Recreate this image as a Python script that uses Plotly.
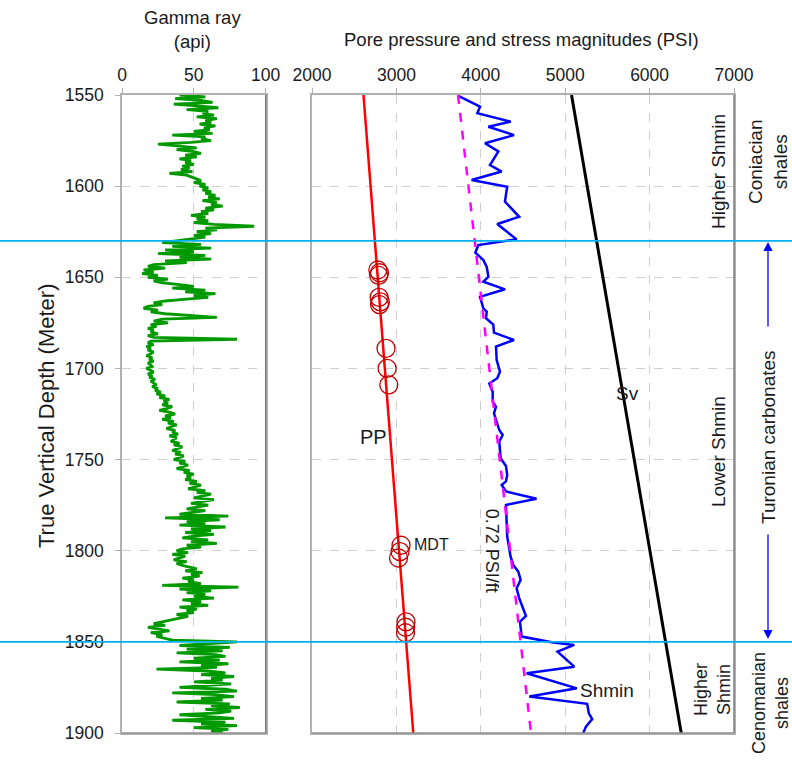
import plotly.graph_objects as go

# ---------------- data ----------------
# Gamma ray log, one sample per metre from 1550 m to 1900 m (api)
gr_top, gr_step = 1550, 1
gamma_api = [
    40, 58, 37, 55, 63, 36, 52, 67, 45, 60,
    56, 64, 52, 66, 58, 62, 54, 65, 57, 61,
    50, 63, 35, 58, 55, 62, 48, 25, 40, 52,
    38, 50, 55, 44, 52, 40, 48, 44, 50, 42,
    47, 41, 49, 33, 45, 48, 51, 55, 50, 58,
    54, 60, 56, 62, 58, 65, 60, 68, 56, 66,
    62, 70, 58, 64, 55, 60, 48, 58, 52, 60,
    50, 64, 92, 58, 66, 52, 62, 50, 58, 47,
    40, 28, 55, 35, 62, 30, 50, 25, 58, 40,
    62, 30, 45, 22, 18, 30, 15, 22, 14, 25,
    18, 32, 22, 28, 40, 50, 35, 58, 44, 65,
    50, 60, 45, 30, 22, 28, 18, 15, 25, 20,
    30, 45, 66, 28, 22, 32, 20, 24, 18, 22,
    20, 25, 18, 22, 80, 20, 18, 22, 17, 20,
    18, 22, 20, 17, 21, 19, 22, 18, 20, 21,
    17, 20, 22, 18, 21, 19, 23, 20, 22, 24,
    21, 25, 23, 27, 24, 30, 26, 33, 29, 32,
    28, 35, 31, 26, 33, 37, 30, 34, 28, 36,
    32, 38, 34, 31, 37, 35, 39, 33, 38, 36,
    34, 40, 36, 42, 38, 35, 41, 37, 43, 39,
    36, 44, 40, 46, 42, 38, 47, 43, 50, 45,
    48, 44, 52, 47, 55, 50, 46, 58, 52, 62,
    55, 50, 64, 56, 48, 60, 52, 45, 58, 50,
    40, 74, 30, 68, 45, 58, 40, 72, 48, 62,
    44, 64, 50, 42, 60, 48, 66, 45, 55, 42,
    38, 46, 35, 44, 40, 36, 45, 38, 42, 48,
    52, 44, 56, 48, 54, 42, 50, 46, 55, 28,
    81, 40, 62, 45, 58, 50, 64, 42, 55, 48,
    60, 40, 52, 45, 50, 38, 46, 40, 33, 28,
    22, 30, 18, 26, 33, 20, 28, 24, 30, 35,
    80, 62, 40, 75, 45, 70, 38, 65, 72, 50,
    68, 40, 74, 55, 66, 24, 60, 72, 55, 78,
    62, 70, 50, 76, 58, 40, 72, 80, 35, 65,
    78, 55, 70, 38, 75, 62, 82, 58, 76, 68,
    40, 60, 78, 35, 72, 55, 80, 50, 74, 62,
    70,
]
gr_depth = [gr_top + i * gr_step for i in range(len(gamma_api))]

# Pore pressure trend (PSI)
pp_depth = [1550, 1900]
pp_psi = [2610, 3200]

# MDT pressure measurements
mdt_depth = [1646, 1647.5, 1649, 1661, 1663.5, 1665, 1689, 1700, 1709,
             1797, 1800.5, 1804, 1839, 1842, 1845]
mdt_psi = [2780, 2800, 2790, 2795, 2810, 2800, 2877, 2890, 2910,
           3055, 3043, 3025, 3114, 3110, 3108]

# 0.72 PSI/ft gradient line
grad_depth = [1550, 1900]
grad_psi = [3730, 4595]

# Minimum horizontal stress profile
shmin_depth = [1550.5, 1556.4, 1560, 1564.6, 1567.4, 1572, 1576.5, 1581, 1588.4,
               1592, 1596.6, 1600.3, 1608.5, 1616.8, 1620.8, 1629.2, 1632.3,
               1636.5, 1640.5, 1644.3, 1649.7, 1652.4, 1656.6, 1660.7, 1667,
               1668.9, 1672.5, 1676, 1680.4, 1684.4, 1688, 1695.4, 1701.8,
               1705.4, 1708.2, 1712.8, 1718.3, 1721, 1724.6, 1733.8, 1736.5,
               1740.2, 1749.3, 1753.5, 1758.4, 1762, 1764, 1767.5, 1771.5,
               1774.9, 1792.3, 1803.3, 1807.8, 1811.5, 1816, 1820.6, 1826,
               1835.8, 1838.9, 1847.1, 1850.4, 1851.7, 1855.4, 1863.6, 1867.2,
               1875.5, 1880, 1884, 1889.2, 1892.4, 1896.5, 1900]
shmin_psi = [3734, 3991, 3959, 4355, 4090, 4393, 4050, 4208, 4109,
             4247, 3891, 4313, 4286, 4455, 4195, 4424, 3970,
             3935, 4030, 4070, 4090, 4030, 4287, 3991, 4030,
             4070, 4061, 4148, 4156, 4393, 4180, 4188, 4227,
             4195, 4101, 4141, 4141, 4180, 4156, 4219, 4259,
             4219, 4235, 4298, 4313, 4298, 4247, 4300, 4660,
             4298, 4313, 4353, 4385, 4444, 4472, 4424, 4455,
             4535, 4464, 4484, 4858, 5107, 4909, 5107, 4543,
             5138, 4574, 5260, 5280, 5320, 5246, 5214]

# Vertical stress trend
sv_depth = [1550, 1900]
sv_psi = [5075, 6375]

# Formation boundaries (m)
boundaries = [1630, 1850]

depth_ticks = [1550, 1600, 1650, 1700, 1750, 1800, 1850, 1900]
gr_ticks = [0, 50, 100]
psi_ticks = [2000, 3000, 4000, 5000, 6000, 7000]

# ---------------- layout helpers ----------------
W, H = 792, 761
ML, MR, MT, MB = 122, 58, 95, 28
PW, PH = W - ML - MR, H - MT - MB


def px(x):
    return (x - ML) / PW


def py(y):
    return 1 - (y - MT) / PH


FONT = "Liberation Sans, Arial, sans-serif"
TXT = "#1a1a1a"
GRID = "#cfcfcf"
AXL = "#b0b0b0"

fig = go.Figure()

fig.add_trace(go.Scatter(x=gamma_api, y=gr_depth, mode="lines",
                         line=dict(color="#009a00", width=2.8),
                         xaxis="x", yaxis="y", hoverinfo="skip"))

fig.add_trace(go.Scatter(x=pp_psi, y=pp_depth, mode="lines",
                         line=dict(color="#ff0000", width=2.5),
                         xaxis="x2", yaxis="y2"))
fig.add_trace(go.Scatter(x=mdt_psi, y=mdt_depth, mode="markers",
                         marker=dict(symbol="circle-open", size=18, color="#c00000",
                                     line=dict(width=1.3, color="#c00000")),
                         xaxis="x2", yaxis="y2"))
fig.add_trace(go.Scatter(x=shmin_psi, y=shmin_depth, mode="lines",
                         line=dict(color="#0000ff", width=2.5),
                         xaxis="x2", yaxis="y2"))
fig.add_trace(go.Scatter(x=grad_psi, y=grad_depth, mode="lines",
                         line=dict(color="#ff00ff", width=2.5, dash="dash"),
                         xaxis="x2", yaxis="y2"))
fig.add_trace(go.Scatter(x=sv_psi, y=sv_depth, mode="lines",
                         line=dict(color="#000000", width=3),
                         xaxis="x2", yaxis="y2"))

left_dom = [0, px(265.7)]
right_dom = [px(312), 1]

common_x = dict(side="top", showline=True, linecolor=AXL, linewidth=1.5, mirror=True,
                ticks="outside", ticklen=5, tickcolor=AXL, tickwidth=1.2,
                showgrid=True, gridcolor=GRID, griddash="dash", gridwidth=1,
                zeroline=False, tickfont=dict(family=FONT, size=17.5, color=TXT))
common_y = dict(range=[1900, 1550], showline=True, linecolor=AXL, linewidth=1.5,
                mirror=True, showgrid=True, gridcolor=GRID, griddash="dash",
                gridwidth=1, zeroline=False, tickvals=depth_ticks)

fig.update_layout(
    width=W, height=H,
    margin=dict(l=ML, r=MR, t=MT, b=MB),
    paper_bgcolor="white", plot_bgcolor="white",
    showlegend=False,
    xaxis=dict(domain=left_dom, range=[0, 100], tickvals=gr_ticks, anchor="y", **common_x),
    xaxis2=dict(domain=right_dom, range=[2000, 7000], tickvals=psi_ticks, anchor="y2", **common_x),
    yaxis=dict(anchor="x", ticks="outside", ticklen=5, tickcolor=AXL,
               tickfont=dict(family=FONT, size=17.5, color=TXT), ticklabelstandoff=8,
               **common_y),
    yaxis2=dict(anchor="x2", matches="y", showticklabels=False, ticks="", **common_y),
)

# darker right-hand and bottom borders of both tracks
for x0, x1 in [(left_dom[0], left_dom[1]), (right_dom[0], right_dom[1])]:
    fig.add_shape(type="line", xref="paper", yref="paper", x0=x1, x1=x1, y0=0, y1=1,
                  line=dict(color="#808080", width=1.5))
    fig.add_shape(type="line", xref="paper", yref="paper", x0=x0, x1=x1, y0=0, y1=0,
                  line=dict(color="#909090", width=1.5))

# formation boundaries across the whole figure
for d in boundaries:
    fig.add_shape(type="line", xref="paper", yref="y", x0=px(0), x1=px(W), y0=d, y1=d,
                  line=dict(color="#00b0f0", width=1.6), layer="above")


def label(text, x, y, size=18, angle=0, xanchor="center", ref="paper"):
    kw = dict(text=text, showarrow=False, textangle=angle, xanchor=xanchor,
              yanchor="middle", font=dict(family=FONT, size=size, color=TXT))
    if ref == "paper":
        fig.add_annotation(xref="paper", yref="paper", x=px(x), y=py(y), **kw)
    else:
        fig.add_annotation(xref="x2", yref="y2", x=x, y=y, **kw)


# track titles
label("Gamma ray<br>(api)", 192, 29, size=18.5)
label("Pore pressure and stress magnitudes (PSI)", 521, 40, size=18.5)
label("True Vertical Depth (Meter)", 46, 416, size=22, angle=-90)

# curve labels
label("PP", 2723, 1737.5, size=20, ref="data")
label("MDT", 3190, 1796.5, size=16, xanchor="left", ref="data")
label("0.72 PSI/ft", 4133, 1800, size=18, angle=90, ref="data")
label("Shmin", 5490, 1876.5, size=19, ref="data")
label("Sv", 5735, 1713.5, size=19, ref="data")

# stress regime and formation labels
label("Higher Shmin", 718, 172, size=19, angle=-90)
label("Lower Shmin", 718, 452, size=19, angle=-90)
label("Higher<br>Shmin", 712, 690, size=18, angle=-90)
label("Coniacian<br>shales", 768, 162, size=19, angle=-90)
label("Turonian carbonates", 768, 437, size=19, angle=-90)
label("Cenomanian<br>shales", 770, 703, size=18, angle=-90)

# extent arrows of the Turonian carbonates
for tip_y, tail_off in [(242, 86), (639, -106)]:
    fig.add_annotation(xref="paper", yref="paper", x=px(768), y=py(tip_y),
                       ax=0, ay=tail_off, text="", showarrow=True, arrowhead=2,
                       arrowsize=1.4, arrowwidth=1.3, arrowcolor="#0000ff", standoff=0)

fig.write_html("out.html")
